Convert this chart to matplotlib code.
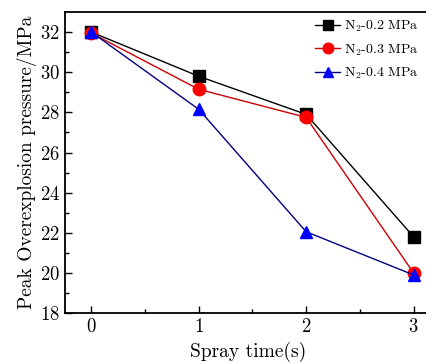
import matplotlib
matplotlib.use("Agg")
import matplotlib.pyplot as plt

plt.rcParams['font.family'] = 'cmr10'
plt.rcParams['mathtext.fontset'] = 'cm'
plt.rcParams['axes.formatter.use_mathtext'] = True

spray_time = [0, 1, 2, 3]
p_02 = [32.0, 29.8, 27.9, 21.8]
p_03 = [31.95, 29.15, 27.75, 20.0]
p_04 = [32.0, 28.15, 22.05, 19.9]
labels = ['N$_2$-0.2 MPa', 'N$_2$-0.3 MPa', 'N$_2$-0.4 MPa']

fig = plt.figure(figsize=(4.26, 3.63), dpi=100)
ax = fig.add_axes([0.1526, 0.1377, 0.86, 0.829])

ax.plot(spray_time, p_02, color='black', lw=1, marker='s', ms=8,
        mfc='black', mec='black', label=labels[0])
ax.plot(spray_time, p_03, color='#cc0000', lw=1, marker='o', ms=9,
        mfc='red', mec='red', label=labels[1])
ax.plot(spray_time, p_04, color='#000080', lw=1, marker='^', ms=9,
        mfc='blue', mec='blue', label=labels[2])

ax.set_xlim(-0.246, 3.166)
ax.set_ylim(18, 33)
ax.set_xticks([0, 1, 2, 3])
ax.set_xticks([0.5, 1.5, 2.5], minor=True)
ax.set_yticks(range(18, 33, 2))
ax.set_yticks(range(19, 33, 2), minor=True)
ax.tick_params(which='both', direction='in', labelsize=13.5)
ax.tick_params(which='major', length=5, width=1)
ax.tick_params(which='minor', length=3, width=1)
ax.spines['right'].set_visible(False)
for s in ['left', 'bottom', 'top']:
    ax.spines[s].set_linewidth(1.3)

ax.set_xlabel('Spray time(s)', fontsize=14, labelpad=4)
ax.set_ylabel('Peak Overexplosion pressure/MPa', fontsize=14, labelpad=2)

leg = ax.legend(loc='upper right', frameon=False, fontsize=10, handlelength=1.8,
                handletextpad=0.3, labelspacing=0.6, markerscale=0.85,
                bbox_to_anchor=(1.0, 1.02))

fig.savefig('out.png', dpi=100)
